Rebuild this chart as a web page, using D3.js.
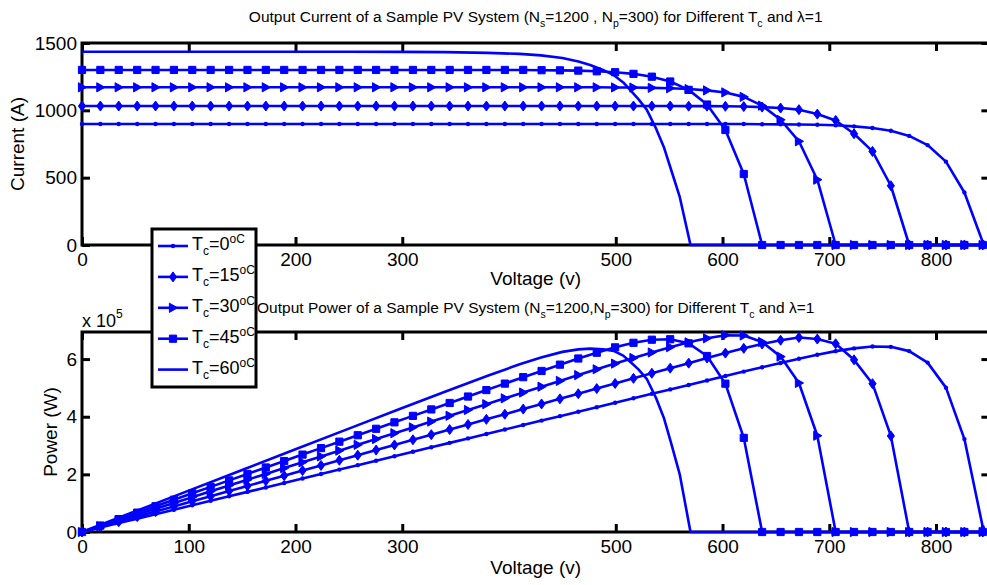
<!DOCTYPE html>
<html>
<head>
<meta charset="utf-8">
<script src="https://cdn.jsdelivr.net/npm/d3@7"></script>
<style>
    body { margin: 0; background: #fff; }
    svg { display: block; font-family: "Liberation Sans", Arial, Helvetica, sans-serif; }
</style>
</head>
<body>
<svg id="chart" width="987" height="585"></svg>
<script>
// Voltage grid shared by the four marked curves (V)
const voltage = [
    0, 17.2, 34.4, 51.7, 68.9, 86.1, 103.3, 120.5, 137.8, 155.0,
    172.2, 189.4, 206.6, 223.9, 241.1, 258.3, 275.5, 292.7, 310.0, 327.2,
    344.4, 361.6, 378.8, 396.1, 413.3, 430.5, 447.7, 464.9, 482.2, 499.4,
    516.6, 533.8, 551.0, 568.3, 585.5, 602.7, 619.9, 637.1, 654.4, 671.6,
    688.8, 706.0, 723.2, 740.5, 757.7, 774.9, 792.1, 809.3, 826.6, 843.8
];

// Output current (A)
const currentT0 = [
    898, 898, 898, 898, 898, 898, 898, 898, 898, 898,
    898, 898, 898, 898, 898, 898, 898, 898, 898, 898,
    898, 898, 898, 898, 898, 898, 898, 898, 898, 898,
    898, 898, 898, 898, 898, 898, 898, 897, 896, 895,
    893, 889, 881, 869, 848, 810, 742, 619, 390, 20
];
const currentT15 = [
    1032, 1032, 1032, 1032, 1032, 1032, 1032, 1032, 1032, 1032,
    1032, 1032, 1032, 1032, 1032, 1032, 1032, 1032, 1032, 1032,
    1032, 1032, 1032, 1032, 1032, 1032, 1032, 1032, 1032, 1032,
    1032, 1032, 1032, 1031, 1031, 1030, 1028, 1024, 1017, 1005,
    972, 925, 826, 695, 440, 0, 0, 0, 0, 0
];
const currentT30 = [
    1171, 1171, 1171, 1171, 1171, 1171, 1171, 1171, 1171, 1171,
    1171, 1171, 1171, 1171, 1171, 1171, 1171, 1171, 1171, 1171,
    1171, 1171, 1171, 1171, 1171, 1171, 1171, 1171, 1171, 1170,
    1169, 1167, 1164, 1158, 1148, 1133, 1100, 1035, 930, 770,
    485, 0, 0, 0, 0, 0, 0, 0, 0, 0
];
const currentT45 = [
    1300, 1300, 1300, 1300, 1300, 1300, 1300, 1300, 1300, 1300,
    1300, 1300, 1300, 1300, 1300, 1300, 1300, 1300, 1300, 1300,
    1300, 1300, 1300, 1300, 1300, 1298, 1297, 1295, 1290, 1283,
    1271, 1250, 1214, 1152, 1043, 854, 527, 0, 0, 0,
    0, 0, 0, 0, 0, 0, 0, 0, 0, 0
];
// The 60 degC curve has no markers, so it is read at its own points
const voltageT60 = [0, 50, 100, 150, 200, 250, 300, 340, 380, 410, 430, 450, 465, 476, 488,
    498, 507, 513, 521, 529, 538, 545, 552, 560, 570, 600, 650, 700, 750, 800, 850];
const currentT60 = [1435, 1435, 1435, 1435, 1435, 1435, 1434, 1432, 1427, 1419, 1408, 1389, 1363, 1337, 1300,
    1262, 1207, 1155, 1085, 1005, 860, 728, 555, 355, 0, 0, 0, 0, 0, 0, 0];

const tempLabels = ['0', '15', '30', '45', '60'];
const markerTypes = ['dot', 'diamond', 'triangle', 'square', 'none'];

const voltageTicks = [0, 100, 200, 300, 500, 600, 700, 800];
const currentTicks = [0, 500, 1000, 1500];
const powerTicks = [0, 200000, 400000, 600000];

const BLUE = '#0000ff';

const series = [
    { v: voltage, i: currentT0 },
    { v: voltage, i: currentT15 },
    { v: voltage, i: currentT30 },
    { v: voltage, i: currentT45 },
    { v: voltageT60, i: currentT60 }
].map((s, k) => ({
    label: tempLabels[k],
    marker: markerTypes[k],
    // power panel plots P = V * I of the same points
    points: s.v.map((v, j) => ({ v: v, i: s.i[j], p: v * s.i[j] }))
}));

const svg = d3.select('#chart');
svg.append('rect').attr('width', 987).attr('height', 585).attr('fill', '#fff');

const x = d3.scaleLinear().domain([0, 850]).range([82, 989.4]);
const yCurrent = d3.scaleLinear().domain([0, 1500]).range([245, 43]);
const yPower = d3.scaleLinear().domain([0, 694000]).range([532, 332]);

function drawAxes(y, ticks, fmt, hiddenX) {
    const [bottom, top] = y.range();
    const right = x.range()[1];
    const g = svg.append('g');

    // labels the legend box hides in the reference are left empty
    g.append('g').attr('transform', `translate(0,${bottom})`)
        .call(d3.axisBottom(x).tickValues(voltageTicks).tickSize(-8).tickPadding(8)
            .tickFormat(d => hiddenX.includes(d) ? '' : d3.format('d')(d)));
    g.append('g').attr('transform', `translate(0,${top})`)
        .call(d3.axisTop(x).tickValues(voltageTicks).tickSize(-8).tickFormat(''));
    g.append('g').attr('transform', 'translate(82,0)')
        .call(d3.axisLeft(y).tickValues(ticks).tickSize(-8).tickPadding(5).tickFormat(fmt));
    g.append('g').attr('transform', `translate(${right},0)`)
        .call(d3.axisRight(y).tickValues(ticks).tickSize(-8).tickFormat(''));

    g.selectAll('.domain').remove();
    g.selectAll('.tick line').attr('stroke', '#000').attr('stroke-width', 3);
    g.selectAll('.tick text')
        .attr('fill', '#000')
        .attr('font-size', 19)
        .attr('font-family', '"Liberation Sans", Arial, Helvetica, sans-serif');

    g.append('rect')
        .attr('x', 82).attr('y', top)
        .attr('width', right - 82).attr('height', bottom - top)
        .attr('fill', 'none').attr('stroke', '#000').attr('stroke-width', 3);
}

function markerPath(type) {
    if (type === 'diamond') return 'M0,-5L3.6,0L0,5L-3.6,0Z';
    if (type === 'triangle') return 'M-3.6,-4.6L4.6,0L-3.6,4.6Z';
    if (type === 'square') return 'M-3.6,-3.6H3.6V3.6H-3.6Z';
    return null;
}

function addMarker(sel, type, cx, cy) {
    if (type === 'none') return;
    if (type === 'dot') {
        sel.append('circle').attr('cx', cx).attr('cy', cy).attr('r', 2.2).attr('fill', BLUE);
        return;
    }
    sel.append('path')
        .attr('d', markerPath(type))
        .attr('transform', `translate(${cx},${cy})`)
        .attr('fill', BLUE).attr('stroke', BLUE).attr('stroke-width', 1);
}

function drawSeries(y, key) {
    const line = d3.line().x(d => x(d.v)).y(d => y(d[key]));
    series.forEach(s => {
        const g = svg.append('g');
        g.append('path')
            .attr('d', line(s.points))
            .attr('fill', 'none')
            .attr('stroke', BLUE)
            .attr('stroke-width', 2.6)
            .attr('stroke-linejoin', 'round');
        s.points.forEach(d => addMarker(g, s.marker, x(d.v), y(d[key])));
    });
}

// text with sub/superscripts: parts = [[text, 'sub'|'sup'|null], ...]
function richText(g, parts, size, smallSize, shift) {
    let offset = 0;
    parts.forEach(([txt, kind]) => {
        const target = kind === 'sub' ? shift : kind === 'sup' ? -shift : 0;
        g.append('tspan')
            .attr('dy', target - offset)
            .attr('font-size', kind ? smallSize : size)
            .text(txt);
        offset = target;
    });
}

function addTitle(yPos, parts) {
    const t = svg.append('text')
        .attr('x', (82 + x.range()[1]) / 2)
        .attr('y', yPos)
        .attr('text-anchor', 'middle')
        .attr('fill', '#000');
    richText(t, parts, 15.5, 10.5, 5);
}

// ---- top panel: current ----
drawAxes(yCurrent, currentTicks, d3.format('d'), [100]);
drawSeries(yCurrent, 'i');
addTitle(22, [['Output Current of a Sample PV System (N', null], ['s', 'sub'], ['=1200 , N', null],
    ['p', 'sub'], ['=300) for Different T', null], ['c', 'sub'], [' and \u03bb=1', null]]);

svg.append('text')
    .attr('transform', 'translate(24,144) rotate(-90)')
    .attr('text-anchor', 'middle').attr('font-size', 19)
    .text('Current (A)');
svg.append('text')
    .attr('x', (82 + x.range()[1]) / 2).attr('y', 285)
    .attr('text-anchor', 'middle').attr('font-size', 19)
    .text('Voltage (v)');

// ---- bottom panel: power ----
drawAxes(yPower, powerTicks, d => d3.format('d')(d / 1e5), []);
drawSeries(yPower, 'p');
addTitle(313, [['Output Power of a Sample PV System (N', null], ['s', 'sub'], ['=1200,N', null],
    ['p', 'sub'], ['=300) for Different T', null], ['c', 'sub'], [' and \u03bb=1', null]]);

svg.append('text')
    .attr('transform', 'translate(57,432) rotate(-90)')
    .attr('text-anchor', 'middle').attr('font-size', 19)
    .text('Power (W)');
svg.append('text')
    .attr('x', (82 + x.range()[1]) / 2).attr('y', 574)
    .attr('text-anchor', 'middle').attr('font-size', 19)
    .text('Voltage (v)');

const exp = svg.append('text').attr('x', 82).attr('y', 327).attr('font-size', 18);
exp.append('tspan').text('x 10');
exp.append('tspan').attr('dy', -9).attr('font-size', 12).text('5');

// ---- legend ----
const legend = svg.append('g');
legend.append('rect')
    .attr('x', 152).attr('y', 229).attr('width', 104).attr('height', 158)
    .attr('fill', '#fff').attr('stroke', '#000').attr('stroke-width', 3);

series.forEach((s, k) => {
    const ly = 246 + k * 30.9;
    legend.append('line')
        .attr('x1', 158).attr('x2', 188).attr('y1', ly).attr('y2', ly)
        .attr('stroke', BLUE).attr('stroke-width', 2.6);
    addMarker(legend, s.marker, 173, ly);
    const t = legend.append('text').attr('x', 192).attr('y', ly + 4).attr('fill', '#000');
    let offset = 0;
    [['T', 0, 18], ['c', 5, 12], ['=' + s.label, 0, 18], ['oC', -7, 12]].forEach(([txt, dy, fs]) => {
        t.append('tspan').attr('dy', dy - offset).attr('font-size', fs).text(txt);
        offset = dy;
    });
});
</script>
</body>
</html>
